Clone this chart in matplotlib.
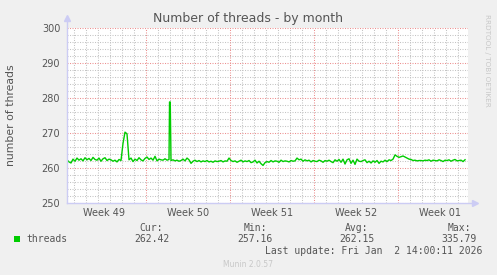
import matplotlib
matplotlib.use("Agg")
import matplotlib.pyplot as plt
import matplotlib.transforms as mtransforms
import numpy as np

W, H = 497, 275

# threads, one sample every 4 hours, starting 6.58 days before the first week line
start_day = -79 / 12.0
step_day = 1 / 6.0
threads = [
    262.4, 261.8, 261.5, 262.6, 262.0, 262.9, 262.3, 262.7, 262.1, 263.0,
    262.4, 262.8, 262.2, 263.1, 262.5, 262.3, 262.9, 262.0, 262.7, 263.0,
    262.2, 262.6, 262.4, 262.0, 262.3, 261.8, 262.5, 262.2, 267.1, 270.3,
    269.8, 262.4, 262.9, 261.9, 262.6, 262.2, 263.0, 262.4, 262.1, 262.8,
    263.2, 262.5, 262.9, 262.3, 263.4, 262.1, 262.6, 262.4, 262.3, 262.7,
    262.3, 262.5, 262.2, 262.4, 262.1, 262.3, 262.0, 262.2, 262.6, 262.1,
    262.9, 262.4, 261.4, 262.0, 262.3, 261.9, 262.2, 261.8, 262.1, 261.9,
    262.2, 261.8, 262.0, 261.7, 262.1, 261.9, 262.0, 262.2, 261.8, 262.1,
    262.0, 262.9, 262.2, 261.9, 262.1, 261.7, 262.0, 262.3, 261.8, 262.1,
    261.9, 262.2, 261.6, 261.8, 262.3, 261.5, 262.0, 261.3, 260.8, 261.6,
    261.9, 261.7, 262.2, 261.8, 262.1, 262.0, 261.7, 262.3, 261.9, 262.1,
    262.0, 261.8, 262.2, 262.0, 262.1, 262.9, 262.4, 262.6, 262.0, 262.4,
    262.1, 262.3, 261.8, 262.2, 262.0, 261.9, 262.3, 262.1, 261.7, 262.2,
    262.0, 262.3, 261.9, 261.6, 262.4, 262.0, 262.5, 261.7, 262.6, 261.2,
    262.4, 262.7, 261.4, 262.3, 261.1, 262.6, 262.0, 261.9, 262.2, 262.4,
    261.6, 262.0, 261.5, 262.1, 261.7, 262.2, 261.4, 262.0, 261.8, 262.3,
    261.9, 262.4, 262.2, 262.6, 263.8, 263.4, 263.1, 263.3, 263.5, 263.2,
    262.9, 262.6, 262.5, 262.2, 262.3, 262.1, 262.2, 262.2, 262.1, 262.3,
    262.2, 262.4, 262.0, 262.3, 262.2, 262.1, 262.4, 262.2, 261.9, 262.3,
    262.2, 262.4, 262.0, 262.3, 262.5, 262.1, 262.2, 262.3, 261.9, 262.42,
]
# short spike that falls between two regular samples
spike_days = [1.96, 2.02]
spike_vals = [278.9, 278.9]

week_labels = ["Week 49", "Week 50", "Week 51", "Week 52", "Week 01"]
week_lines = [0, 7, 14, 21]
y_ticks = [250, 260, 270, 280, 290, 300]

stats_names = ["Cur:", "Min:", "Avg:", "Max:"]
stats_vals = ["262.42", "257.16", "262.15", "335.79"]

BG = "#f0f0f0"
TXT = "#555555"
AXC = "#ccccf4"
GREEN = "#00cc00"

fig = plt.figure(figsize=(W / 100, H / 100), dpi=100, facecolor=BG)

def fx(px):
    return px / W

def fy(py):
    return 1 - py / H

left, right, top, bottom = 66.5, 468, 28, 203.3
ax = fig.add_axes([fx(left), fy(bottom), fx(right - left), (bottom - top) / H])
ax.set_facecolor("white")

days = [start_day + i * step_day for i in range(len(threads))]
pts = sorted(zip(days + spike_days, threads + spike_vals))
x = [p[0] for p in pts]
y = [p[1] for p in pts]

ax.set_xlim(-6.625, 26.83)
ax.set_ylim(250, 300)

# grid: minor every day / 2 units, major at week lines / 10 units
dash = (0, (1, 1.4))
for d in range(-6, 27):
    if d in week_lines:
        continue
    ax.axvline(d, color="#c4c4c4", lw=0.75, ls=dash, zorder=1)
for v in range(252, 300, 2):
    if v % 10:
        ax.axhline(v, color="#c4c4c4", lw=0.75, ls=dash, zorder=1)
for d in week_lines:
    ax.axvline(d, color="#ec9090", lw=0.75, ls=dash, zorder=1.5)
for v in y_ticks:
    ax.axhline(v, color="#ec9090", lw=0.75, ls=dash, zorder=1.5)

ax.plot(x, y, color=GREEN, lw=1.0, zorder=3)

for s in ax.spines.values():
    s.set_visible(False)
ax.set_xticks([])
ax.set_yticks(y_ticks)
ax.set_yticklabels([str(v) for v in y_ticks], fontsize=7, color=TXT)
ax.tick_params(axis="y", length=0, pad=4.5)

# axes with arrowheads
ax.plot([0, 0], [0, 1.05], transform=ax.transAxes, color=AXC, lw=1.0, clip_on=False, zorder=4)
ax.plot([0, 1.012], [0, 0], transform=ax.transAxes, color=AXC, lw=1.0, clip_on=False, zorder=4)
ax.plot([0], [1.055], transform=ax.transAxes, marker="^", ms=5, color=AXC, clip_on=False, zorder=4)
ax.plot([1.018], [0], transform=ax.transAxes, marker=">", ms=5, color=AXC, clip_on=False, zorder=4)

trans = mtransforms.blended_transform_factory(ax.transData, fig.transFigure)
for i, lab in enumerate(week_labels):
    ax.text(-3.5 + 7 * i, fy(212.5), lab, transform=trans, ha="center", va="center",
            fontsize=7, color=TXT)

fig.text(fx(248), fy(18.5), "Number of threads - by month", ha="center", va="center",
         fontsize=9, color=TXT)
fig.text(fx(11), fy(115.5), "number of threads", rotation=90, ha="center", va="center",
         fontsize=7.8, color=TXT)
fig.text(fx(487), fy(14), "RRDTOOL / TOBI OETIKER", rotation=270, ha="center", va="top",
         fontsize=5.2, color="#c8c8c8")

mono = "DejaVu Sans Mono"
fig.patches.append(plt.Rectangle((fx(14), fy(242)), fx(6), 6 / H, transform=fig.transFigure,
                                 facecolor=GREEN, edgecolor="none"))
fig.text(fx(26.5), fy(239.5), "threads", family=mono, fontsize=7, color=TXT, va="center")
centres = [151.5, 255, 357, 459]
for cx, nm, val in zip(centres, stats_names, stats_vals):
    fig.text(fx(cx), fy(228), nm, family=mono, fontsize=7, color=TXT, ha="center", va="center")
    fig.text(fx(cx), fy(239.5), val, family=mono, fontsize=7, color=TXT, ha="center", va="center")
fig.text(fx(482.5), fy(251), "Last update: Fri Jan  2 14:00:11 2026", family=mono,
         fontsize=7, color=TXT, ha="right", va="center")
fig.text(fx(248), fy(264.5), "Munin 2.0.57", fontsize=5.5, color="#c8c8c8",
         ha="center", va="center")

fig.savefig("out.png", dpi=100, facecolor=BG)
